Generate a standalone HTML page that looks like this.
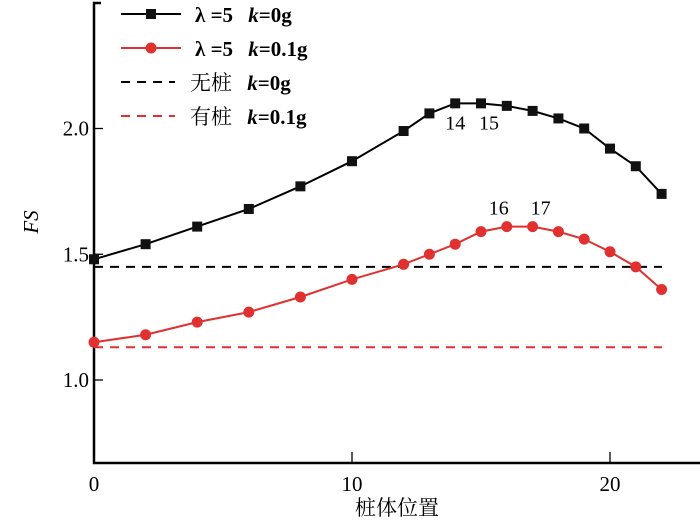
<!DOCTYPE html>
<html><head><meta charset="utf-8"><style>
body{margin:0;background:#fff}
svg{display:block;font-family:"Liberation Serif","Noto Serif CJK SC",serif}
</style></head><body>
<svg id="c" width="700" height="523" xmlns="http://www.w3.org/2000/svg"></svg>
<script>
const xs=[0,2,4,6,8,10,12,13,14,15,16,17,18,19,20,21,22];
const black=[1.48,1.54,1.61,1.68,1.77,1.87,1.99,2.06,2.10,2.10,2.09,2.07,2.04,2.00,1.92,1.85,1.74];
const red=[1.15,1.18,1.23,1.27,1.33,1.40,1.46,1.50,1.54,1.59,1.61,1.61,1.59,1.56,1.51,1.45,1.36];
const refBlack=1.45, refRed=1.13;
const xTicks=[0,10,20];
const yTicks=[1.0,1.5,2.0];
const X=v=>94+v*25.8, Y=v=>380-(v-1)*251.5;
const s=document.getElementById('c'),NS='http://www.w3.org/2000/svg';
function el(t,a,txt){const e=document.createElementNS(NS,t);for(const k in a)e.setAttribute(k,a[k]);if(txt!==undefined)e.textContent=txt;s.appendChild(e);return e;}
let e;
e=el('path',{d:'M101 3H94V463H700',fill:'none',stroke:'#000','stroke-width':2.5});

xTicks.forEach(t=>{
 e=el('line',{x1:X(t),x2:X(t),y1:463,y2:452,stroke:'#000','stroke-width':1.3});
 
 e=el('text',{x:X(t),y:491,'text-anchor':'middle','font-size':21},t);
 
});
yTicks.forEach(t=>{
 e=el('line',{x1:94,x2:103,y1:Y(t),y2:Y(t),stroke:'#000','stroke-width':1.3});
 
 e=el('text',{x:89,y:Y(t)+7,'text-anchor':'end','font-size':21},t.toFixed(1));
 
});
e=el('text',{x:397,y:515,'text-anchor':'middle','font-size':21},'桩体位置');

e=el('text',{x:38,y:222,'text-anchor':'middle','font-size':21,'font-style':'italic',transform:'rotate(-90 38 222)'},'FS');

e=el('line',{x1:94,x2:662,y1:Y(refBlack),y2:Y(refBlack),stroke:'#000','stroke-width':2,'stroke-dasharray':'9 7'});

e=el('line',{x1:94,x2:662,y1:Y(refRed),y2:Y(refRed),stroke:'#e03030','stroke-width':2,'stroke-dasharray':'9 7'});

e=el('polyline',{points:xs.map((x,i)=>X(x)+','+Y(black[i])).join(' '),fill:'none',stroke:'#000','stroke-width':2});

xs.forEach((x,i)=>{e=el('rect',{x:X(x)-5,y:Y(black[i])-5,width:10,height:10,fill:'#111'});
 });
e=el('polyline',{points:xs.map((x,i)=>X(x)+','+Y(red[i])).join(' '),fill:'none',stroke:'#e03030','stroke-width':2});

xs.forEach((x,i)=>{e=el('circle',{cx:X(x),cy:Y(red[i]),r:5.5,fill:'#e03030'});
 });
[[14,X(14),Y(2.10)+26],[15,X(15)+8,Y(2.10)+26],[16,X(16)-8,Y(1.61)-12],[17,X(17)+8,Y(1.61)-12]].forEach(a=>{
 e=el('text',{x:a[1],y:a[2],'text-anchor':'middle','font-size':20},a[0]);
 });
const leg=[['λ =5 ','k','=0g','#000','sq'],['λ =5 ','k','=0.1g','#e03030','ci'],['无桩 ','k','=0g','#000','da'],['有桩 ','k','=0.1g','#e03030','da']];
leg.forEach((l,i)=>{const y=14+i*34;
 if(l[4]=='da'){e=el('line',{x1:121,x2:175,y1:y,y2:y,stroke:l[3],'stroke-width':2,'stroke-dasharray':'9 7'});}
 else{e=el('line',{x1:121,x2:181,y1:y,y2:y,stroke:l[3],'stroke-width':2});}
 
 if(l[4]=='sq'){e=el('rect',{x:146,y:y-5,width:10,height:10,fill:'#111'});}
 if(l[4]=='ci'){e=el('circle',{cx:151,cy:y,r:5.5,fill:'#e03030'});}
 const t=el('text',{x:l[4]=='da'?190:195,y:y+8,'font-size':21,'xml:space':'preserve'});
 
 const a=document.createElementNS(NS,'tspan');a.textContent=l[0];a.setAttribute('font-weight',l[4]=='da'?'normal':'bold');t.appendChild(a);
 const b=document.createElementNS(NS,'tspan');b.textContent=l[1];b.setAttribute('font-style','italic');b.setAttribute('font-weight','bold');b.setAttribute('dx','10');t.appendChild(b);
 const c=document.createElementNS(NS,'tspan');c.textContent=l[2];c.setAttribute('font-weight','bold');t.appendChild(c);
});
</script>
</body></html>
